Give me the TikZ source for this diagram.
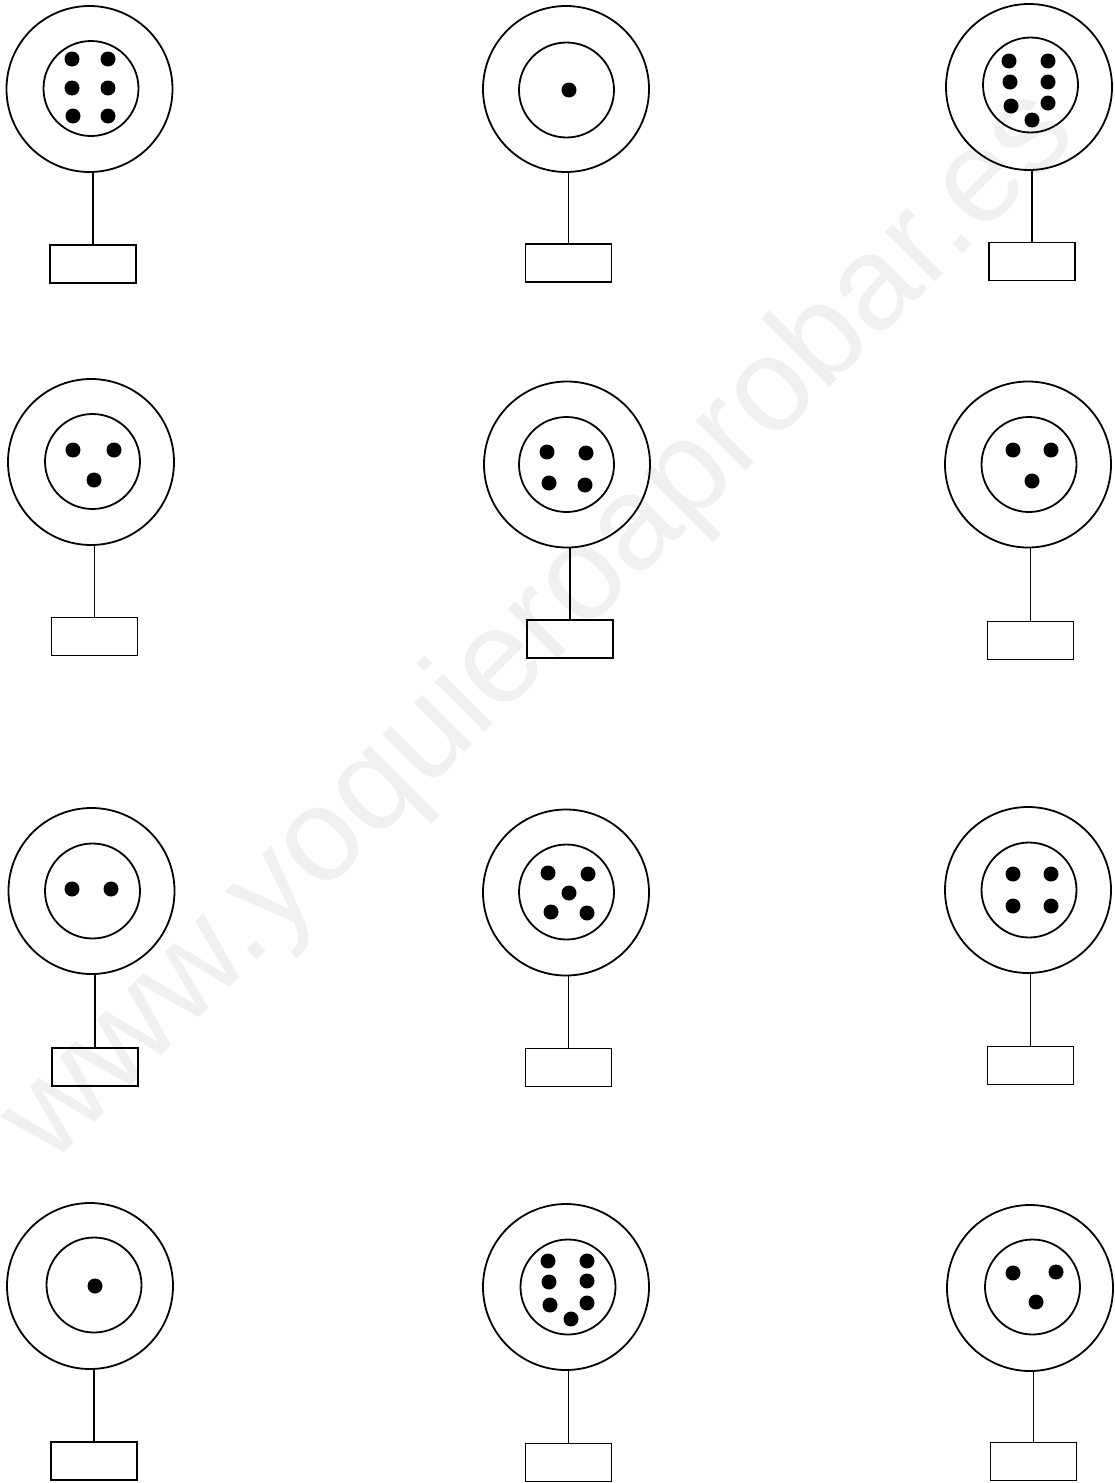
\documentclass[tikz,border=0pt]{standalone}
\usepackage{fontspec}
\newfontfamily\markfont{Liberation Sans}
\usetikzlibrary{calc}

\begin{document}
\begin{tikzpicture}[
  x=1pt, y=-1pt,
  ring/.style={circle, draw, line width=1.8pt, minimum size=166pt, inner sep=0pt},
  face/.style={circle, draw, line width=1.8pt, minimum size=95pt, inner sep=0pt},
  tag/.style={rectangle, draw, line width=1.8pt, minimum width=86pt, minimum height=38pt, inner sep=0pt},
  pin/.style={circle, fill, minimum size=15pt, inner sep=0pt},
  stem/.style={line width=1.8pt}
]
  \useasboundingbox (0,0) rectangle (1115,1483);

  % faint watermark behind everything
  \node[rotate=45, anchor=base, inner sep=0pt, text=black!6,
        font=\markfont\fontsize{133}{133}\selectfont] (mark) at (565,652)
    {www.yoquieroaprobar.es};

  % figure: ring centre / face centre / tag centre / pins
  \foreach \n/\ox/\oy/\ix/\iy/\bx/\by/\pins in {
      1/89.5/89/91/88.5/93/264/{(72,59),(108,59),(72,88),(108,88),(73,116),(108,116)},
      2/566/89/566.5/90/568.5/263/{(569,90)},
      3/1029/87/1030.5/85/1032/261.5/{(1009,61),(1048,61),(1010,82),(1048,82),(1011,106),(1048,103),(1032,120)},
      4/91/462/92.5/461.5/94.5/636.5/{(73,450),(114,450),(94,480)},
      5/567/464.5/566.5/464.5/570/639/{(547,452),(586,453),(549,483),(585,485)},
      6/1028/464.5/1029/464.5/1030.5/640.5/{(1013,450),(1051,450),(1032,481)},
      7/91.5/891/92.5/891/95/1067/{(72,889),(111,889)},
      8/566/892.5/566.5/892/568.5/1067.5/{(548,873),(588,874),(569,893),(551,912),(587,913)},
      9/1028/890/1029/890/1030.5/1065.5/{(1013,874),(1051,874),(1013,906),(1051,906)},
      10/90/1286/94/1285/94/1461/{(95,1286)},
      11/566/1287/568/1287/568.5/1462.5/{(548,1261),(587,1261),(549,1282),(587,1281),(550,1305),(587,1303),(571,1319)},
      12/1030/1288/1032.5/1287/1033.5/1461.5/{(1013,1273),(1056,1272),(1036,1302)}}
  {
    \node[ring] (ring\n) at (\ox,\oy) {};
    \node[face] (face\n) at (\ix,\iy) {};
    \node[tag] (tag\n) at (\bx,\by) {};
    \draw[stem] (tag\n.north) -- (tag\n.north |- ring\n.south);
    \foreach \p [count=\k] in \pins
      \node[pin] (pin\n-\k) at \p {};
  }
\end{tikzpicture}
\end{document}
